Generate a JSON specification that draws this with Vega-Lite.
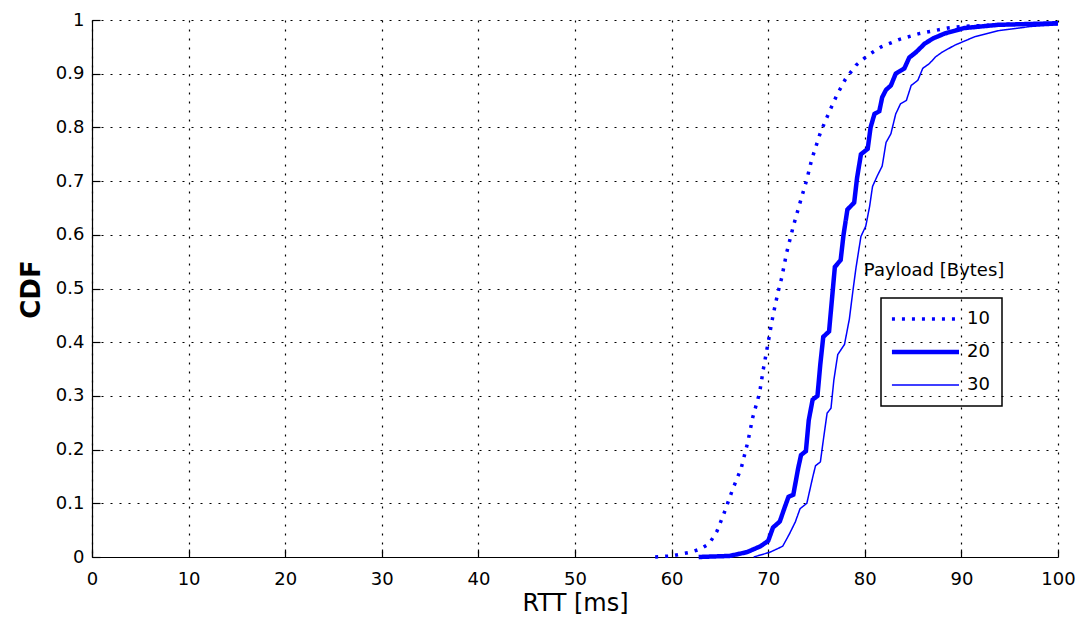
{
  "$schema": "https://vega.github.io/schema/vega-lite/v6.json",
  "width": 966,
  "height": 537,
  "autosize": {"type": "none"},
  "padding": {"left": 92, "top": 20, "right": 25, "bottom": 69},
  "background": "white",
  "config": {
    "view": {"stroke": null},
    "font": "DejaVu Sans",
    "axis": {
      "domainColor": "black",
      "domainWidth": 1.2,
      "tickColor": "black",
      "tickSize": -8,
      "tickWidth": 1.2,
      "labelColor": "black",
      "labelFont": "DejaVu Sans",
      "labelFontSize": 18,
      "labelFlush": false,
      "labelOverlap": false,
      "titleColor": "black",
      "titleFont": "DejaVu Sans",
      "grid": true,
      "gridColor": "black",
      "gridDash": [2, 7],
      "gridWidth": 1.2,
      "gridOpacity": 1
    },
    "legend": {"strokeWidth": 1.5}
  },
  "data": {
    "values": [
      {"payload": "10", "rtt": 58.3, "cdf": 0},
      {"payload": "10", "rtt": 60, "cdf": 0.002},
      {"payload": "10", "rtt": 62, "cdf": 0.009},
      {"payload": "10", "rtt": 63, "cdf": 0.015},
      {"payload": "10", "rtt": 63.9, "cdf": 0.025},
      {"payload": "10", "rtt": 64.7, "cdf": 0.048},
      {"payload": "10", "rtt": 65.4, "cdf": 0.08},
      {"payload": "10", "rtt": 66.3, "cdf": 0.125},
      {"payload": "10", "rtt": 67.2, "cdf": 0.165},
      {"payload": "10", "rtt": 67.9, "cdf": 0.215},
      {"payload": "10", "rtt": 68.4, "cdf": 0.26},
      {"payload": "10", "rtt": 69.1, "cdf": 0.305},
      {"payload": "10", "rtt": 69.5, "cdf": 0.35},
      {"payload": "10", "rtt": 70.0, "cdf": 0.4},
      {"payload": "10", "rtt": 70.5, "cdf": 0.45},
      {"payload": "10", "rtt": 71.0, "cdf": 0.492},
      {"payload": "10", "rtt": 71.4, "cdf": 0.52},
      {"payload": "10", "rtt": 71.9, "cdf": 0.566},
      {"payload": "10", "rtt": 72.6, "cdf": 0.616},
      {"payload": "10", "rtt": 73.3, "cdf": 0.66},
      {"payload": "10", "rtt": 74.0, "cdf": 0.703},
      {"payload": "10", "rtt": 74.5, "cdf": 0.74},
      {"payload": "10", "rtt": 75.4, "cdf": 0.79},
      {"payload": "10", "rtt": 76.3, "cdf": 0.828},
      {"payload": "10", "rtt": 77.1, "cdf": 0.86},
      {"payload": "10", "rtt": 78.0, "cdf": 0.89},
      {"payload": "10", "rtt": 79.1, "cdf": 0.916},
      {"payload": "10", "rtt": 80.3, "cdf": 0.934},
      {"payload": "10", "rtt": 81.7, "cdf": 0.95},
      {"payload": "10", "rtt": 83.6, "cdf": 0.964},
      {"payload": "10", "rtt": 85.7, "cdf": 0.975},
      {"payload": "10", "rtt": 88.6, "cdf": 0.985},
      {"payload": "10", "rtt": 90, "cdf": 0.988},
      {"payload": "10", "rtt": 95, "cdf": 0.992},
      {"payload": "10", "rtt": 100, "cdf": 0.994},

      {"payload": "20", "rtt": 62.8, "cdf": 0},
      {"payload": "20", "rtt": 66, "cdf": 0.002},
      {"payload": "20", "rtt": 67.8, "cdf": 0.009},
      {"payload": "20", "rtt": 69.2, "cdf": 0.02},
      {"payload": "20", "rtt": 70.0, "cdf": 0.03},
      {"payload": "20", "rtt": 70.5, "cdf": 0.055},
      {"payload": "20", "rtt": 71.2, "cdf": 0.066},
      {"payload": "20", "rtt": 71.7, "cdf": 0.092},
      {"payload": "20", "rtt": 72.1, "cdf": 0.112},
      {"payload": "20", "rtt": 72.6, "cdf": 0.116},
      {"payload": "20", "rtt": 73.1, "cdf": 0.165},
      {"payload": "20", "rtt": 73.4, "cdf": 0.19},
      {"payload": "20", "rtt": 73.9, "cdf": 0.197},
      {"payload": "20", "rtt": 74.2, "cdf": 0.255},
      {"payload": "20", "rtt": 74.6, "cdf": 0.293},
      {"payload": "20", "rtt": 75.1, "cdf": 0.3},
      {"payload": "20", "rtt": 75.4, "cdf": 0.36},
      {"payload": "20", "rtt": 75.7, "cdf": 0.41},
      {"payload": "20", "rtt": 76.3, "cdf": 0.42},
      {"payload": "20", "rtt": 76.6, "cdf": 0.48},
      {"payload": "20", "rtt": 76.9, "cdf": 0.54},
      {"payload": "20", "rtt": 77.5, "cdf": 0.553},
      {"payload": "20", "rtt": 77.8, "cdf": 0.6},
      {"payload": "20", "rtt": 78.2, "cdf": 0.647},
      {"payload": "20", "rtt": 78.9, "cdf": 0.66},
      {"payload": "20", "rtt": 79.2, "cdf": 0.706},
      {"payload": "20", "rtt": 79.6, "cdf": 0.75},
      {"payload": "20", "rtt": 80.3, "cdf": 0.76},
      {"payload": "20", "rtt": 80.6, "cdf": 0.8},
      {"payload": "20", "rtt": 81.0, "cdf": 0.825},
      {"payload": "20", "rtt": 81.5, "cdf": 0.83},
      {"payload": "20", "rtt": 81.8, "cdf": 0.856},
      {"payload": "20", "rtt": 82.2, "cdf": 0.87},
      {"payload": "20", "rtt": 82.7, "cdf": 0.878},
      {"payload": "20", "rtt": 83.2, "cdf": 0.9},
      {"payload": "20", "rtt": 84.1, "cdf": 0.91},
      {"payload": "20", "rtt": 84.6, "cdf": 0.93},
      {"payload": "20", "rtt": 85.3, "cdf": 0.94},
      {"payload": "20", "rtt": 86.2, "cdf": 0.956},
      {"payload": "20", "rtt": 87.1, "cdf": 0.966},
      {"payload": "20", "rtt": 88.3, "cdf": 0.975},
      {"payload": "20", "rtt": 90.3, "cdf": 0.985},
      {"payload": "20", "rtt": 93.8, "cdf": 0.991},
      {"payload": "20", "rtt": 100, "cdf": 0.994},

      {"payload": "30", "rtt": 68.5, "cdf": 0},
      {"payload": "30", "rtt": 70.2, "cdf": 0.009},
      {"payload": "30", "rtt": 71.5, "cdf": 0.02},
      {"payload": "30", "rtt": 72.2, "cdf": 0.043},
      {"payload": "30", "rtt": 72.8, "cdf": 0.065},
      {"payload": "30", "rtt": 73.3, "cdf": 0.09},
      {"payload": "30", "rtt": 74.0, "cdf": 0.1},
      {"payload": "30", "rtt": 74.6, "cdf": 0.148},
      {"payload": "30", "rtt": 74.9, "cdf": 0.17},
      {"payload": "30", "rtt": 75.4, "cdf": 0.177},
      {"payload": "30", "rtt": 75.8, "cdf": 0.23},
      {"payload": "30", "rtt": 76.1, "cdf": 0.268},
      {"payload": "30", "rtt": 76.5, "cdf": 0.277},
      {"payload": "30", "rtt": 76.8, "cdf": 0.33},
      {"payload": "30", "rtt": 77.2, "cdf": 0.377},
      {"payload": "30", "rtt": 77.9, "cdf": 0.396},
      {"payload": "30", "rtt": 78.4, "cdf": 0.443},
      {"payload": "30", "rtt": 78.8, "cdf": 0.5},
      {"payload": "30", "rtt": 79.1, "cdf": 0.54},
      {"payload": "30", "rtt": 79.6, "cdf": 0.597},
      {"payload": "30", "rtt": 80.1, "cdf": 0.616},
      {"payload": "30", "rtt": 80.5, "cdf": 0.653},
      {"payload": "30", "rtt": 80.8, "cdf": 0.69},
      {"payload": "30", "rtt": 81.3, "cdf": 0.71},
      {"payload": "30", "rtt": 81.8, "cdf": 0.728},
      {"payload": "30", "rtt": 82.2, "cdf": 0.772},
      {"payload": "30", "rtt": 82.7, "cdf": 0.788},
      {"payload": "30", "rtt": 83.2, "cdf": 0.825},
      {"payload": "30", "rtt": 83.7, "cdf": 0.844},
      {"payload": "30", "rtt": 84.3, "cdf": 0.85},
      {"payload": "30", "rtt": 84.8, "cdf": 0.878},
      {"payload": "30", "rtt": 85.5, "cdf": 0.888},
      {"payload": "30", "rtt": 86.0, "cdf": 0.91},
      {"payload": "30", "rtt": 86.7, "cdf": 0.919},
      {"payload": "30", "rtt": 87.3, "cdf": 0.931},
      {"payload": "30", "rtt": 88.0, "cdf": 0.94},
      {"payload": "30", "rtt": 89.3, "cdf": 0.953},
      {"payload": "30", "rtt": 91.4, "cdf": 0.969},
      {"payload": "30", "rtt": 93.8, "cdf": 0.98},
      {"payload": "30", "rtt": 97.2, "cdf": 0.988},
      {"payload": "30", "rtt": 100, "cdf": 0.991}
    ]
  },
  "layer": [
    {
      "mark": {"type": "line", "color": "#0000ff", "strokeCap": "butt"},
      "encoding": {
        "x": {
          "field": "rtt",
          "type": "quantitative",
          "scale": {"domain": [0, 100], "nice": false, "zero": false},
          "axis": {
            "values": [0, 10, 20, 30, 40, 50, 60, 70, 80, 90, 100],
            "title": "RTT [ms]",
            "titleFontSize": 24,
            "titleFontWeight": "normal",
            "titleBaseline": "alphabetic",
            "titleY": 53,
            "labelPadding": 21
          }
        },
        "y": {
          "field": "cdf",
          "type": "quantitative",
          "scale": {"domain": [0, 1], "nice": false},
          "axis": {
            "values": [0, 0.1, 0.2, 0.3, 0.4, 0.5, 0.6, 0.7, 0.8, 0.9, 1],
            "format": "~g",
            "title": "CDF",
            "titleFontSize": 26,
            "titleFontWeight": "bold",
            "titleAngle": -90,
            "titleAlign": "center",
            "titleBaseline": "alphabetic",
            "titleX": -53,
            "titleY": 269,
            "labelPadding": 16
          }
        },
        "strokeDash": {
          "field": "payload",
          "type": "nominal",
          "scale": {"domain": ["10", "20", "30"], "range": [[3, 7], [1, 0], [1, 0]]},
          "legend": {
            "title": null,
            "orient": "none",
            "legendX": 789,
            "legendY": 278,
            "strokeColor": "black",
            "padding": 12,
            "symbolType": "M-3,0H17",
            "symbolSize": 45,
            "symbolStrokeColor": "#0000ff",
            "labelFontSize": 18,
            "labelFont": "DejaVu Sans",
            "labelColor": "black",
            "labelOffset": 56,
            "rowPadding": 15
          }
        },
        "strokeWidth": {
          "field": "payload",
          "type": "nominal",
          "scale": {"type": "ordinal", "domain": ["10", "20", "30"], "range": [3.5, 4.5, 1.5]},
          "legend": {
            "title": null,
            "orient": "none",
            "legendX": 789,
            "legendY": 278,
            "strokeColor": "black",
            "padding": 12,
            "symbolType": "M-3,0H17",
            "symbolSize": 45,
            "symbolStrokeColor": "#0000ff",
            "labelFontSize": 18,
            "labelFont": "DejaVu Sans",
            "labelColor": "black",
            "labelOffset": 56,
            "rowPadding": 15
          }
        }
      }
    },
    {
      "data": {"values": [{"label": "Payload [Bytes]"}]},
      "mark": {"type": "text", "align": "left", "baseline": "middle", "fontSize": 18, "font": "DejaVu Sans", "color": "black"},
      "encoding": {
        "x": {"datum": 79.9},
        "y": {"datum": 0.532},
        "text": {"field": "label"}
      }
    }
  ]
}
